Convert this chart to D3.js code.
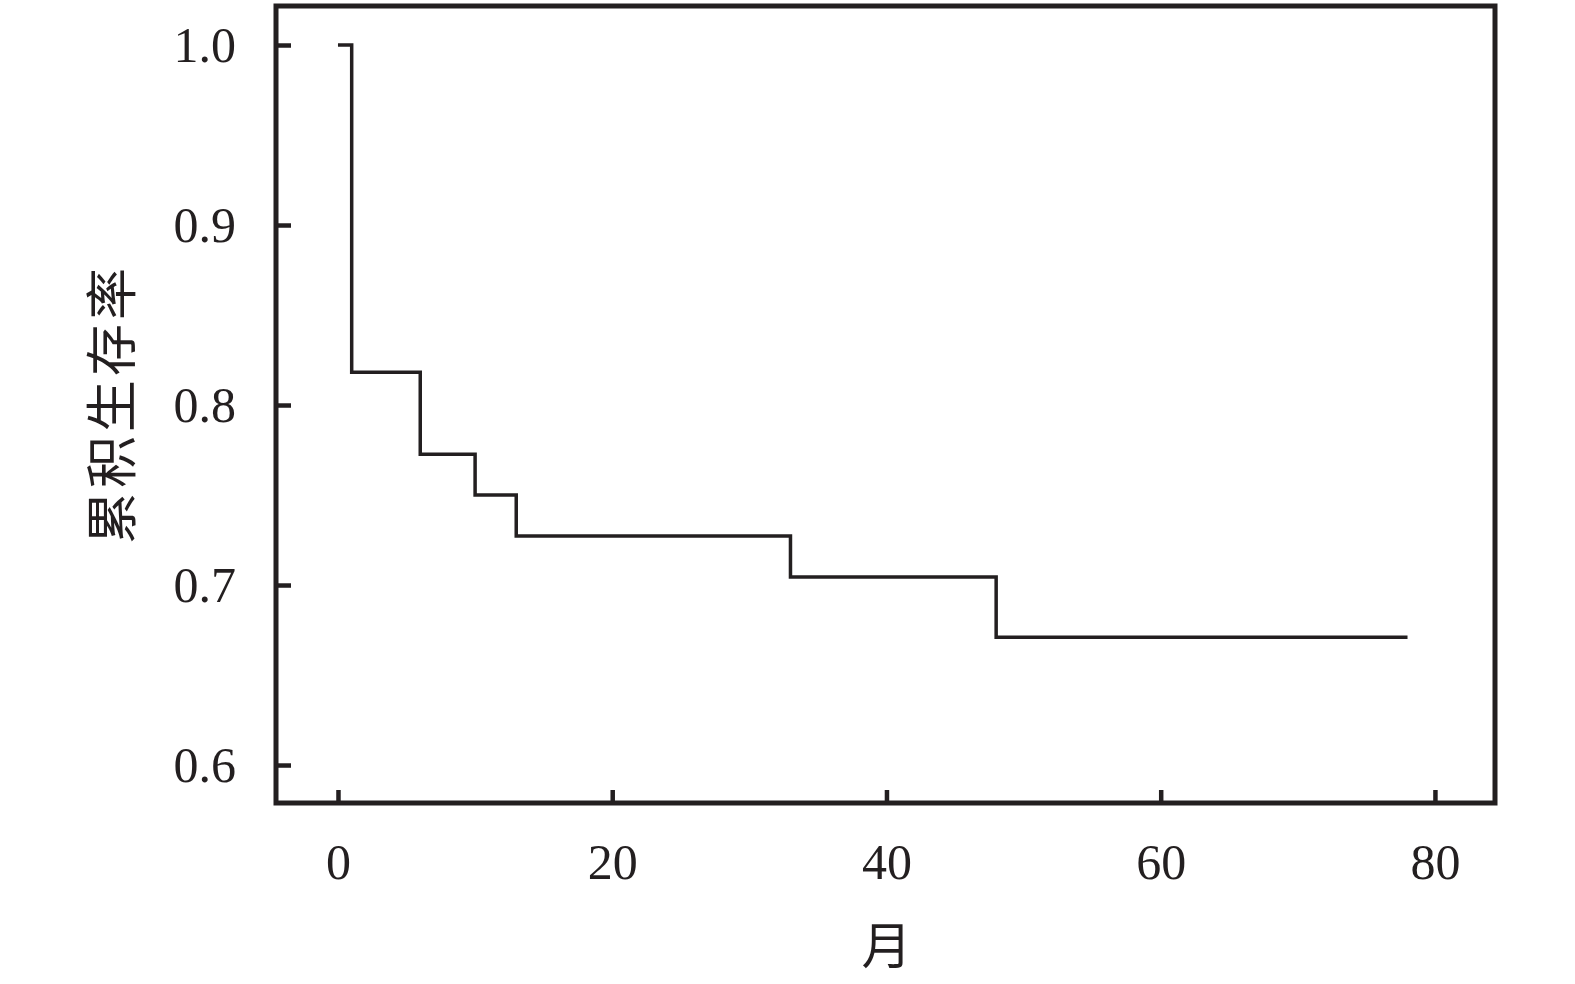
<!DOCTYPE html>
<html>
<head>
<meta charset="utf-8">
<script src="https://cdn.jsdelivr.net/npm/d3@7"></script>
<style>
  html, body { margin: 0; padding: 0; background: #fff; }
  svg { display: block; }
</style>
</head>
<body>
<svg id="chart" width="1575" height="984"></svg>
<script>
// Data (Kaplan–Meier step curve)
const months = [0, 1, 6, 10, 13, 33, 48, 78];
const survival = [1.0, 0.8182, 0.7727, 0.75, 0.7273, 0.7045, 0.671, 0.671];
const xTicks = [0, 20, 40, 60, 80];
const yTicks = [0.6, 0.7, 0.8, 0.9, 1.0];
const xLabel = "月";
const yLabel = "累积生存率";

(function () {
const ink = "#231f20";
const svg = d3.select("#chart");

const pLeft = 276, pRight = 1495, pTop = 6, pBottom = 803;

const x = d3.scaleLinear().domain([-4.52, 84.38]).range([pLeft, pRight]);
const y = d3.scaleLinear().domain([0.5789, 1.02167]).range([pBottom, pTop]);

// Y axis (ticks inward)
const yAxis = d3.axisLeft(y).tickValues(yTicks).tickFormat(d3.format(".1f"))
  .tickSize(-15).tickPadding(40);
const gy = svg.append("g").attr("transform", `translate(${pLeft},0)`).call(yAxis);
gy.select(".domain").remove();
gy.selectAll(".tick line").attr("stroke", ink).attr("stroke-width", 4.5);
gy.selectAll(".tick text").attr("fill", ink)
  .style("font-family", "'Liberation Serif', 'DejaVu Serif', serif")
  .style("font-size", "50px");

// X axis (ticks inward)
const xAxis = d3.axisBottom(x).tickValues(xTicks).tickFormat(d3.format("d"))
  .tickSize(-13).tickPadding(40);
const gx = svg.append("g").attr("transform", `translate(0,${pBottom})`).call(xAxis);
gx.select(".domain").remove();
gx.selectAll(".tick line").attr("stroke", ink).attr("stroke-width", 4.5);
gx.selectAll(".tick text").attr("fill", ink)
  .style("font-family", "'Liberation Serif', 'DejaVu Serif', serif")
  .style("font-size", "50px");

// Frame
svg.append("rect")
  .attr("x", pLeft).attr("y", pTop)
  .attr("width", pRight - pLeft).attr("height", pBottom - pTop)
  .attr("fill", "none").attr("stroke", ink).attr("stroke-width", 5);

// Survival step line
const data = months.map((m, i) => ({ m, s: survival[i] }));
const line = d3.line().x(d => x(d.m)).y(d => y(d.s)).curve(d3.curveStepAfter);
svg.append("path").datum(data)
  .attr("d", line)
  .attr("fill", "none").attr("stroke", ink).attr("stroke-width", 3.5);

// Axis titles
svg.append("text")
  .attr("x", x(40)).attr("y", 942)
  .attr("text-anchor", "middle").attr("dominant-baseline", "central")
  .attr("fill", ink)
  .style("font-family", "'Noto Sans CJK SC', sans-serif")
  .style("font-size", "50px").style("font-weight", 400)
  .text(xLabel);

svg.append("text")
  .attr("transform", `translate(108,404) rotate(-90)`)
  .attr("text-anchor", "middle").attr("dominant-baseline", "central")
  .attr("fill", ink)
  .style("font-family", "'Noto Sans CJK SC', sans-serif")
  .style("font-size", "52px").style("font-weight", 400)
  .style("letter-spacing", "4px")
  .text(yLabel);
})();
</script>
</body>
</html>
